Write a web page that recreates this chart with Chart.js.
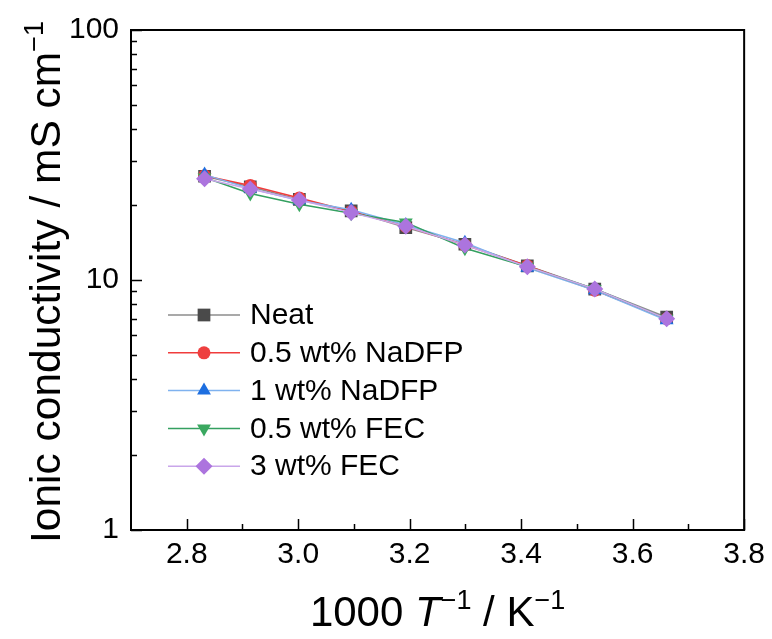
<!DOCTYPE html>
<html>
<head>
<meta charset="utf-8">
<script src="https://cdn.jsdelivr.net/npm/chart.js@4"></script>
<style>
  html, body { margin: 0; padding: 0; background: #fff; }
  #wrap { width: 772px; height: 639px; }
</style>
</head>
<body>
<div id="wrap"><canvas id="cond"></canvas></div>
<script>
// 1000/T for 80 ... 0 °C
var invT = [2.832, 2.914, 3.002, 3.095, 3.193, 3.299, 3.411, 3.532, 3.661];

// ionic conductivity, mS cm-1
var neat     = [26.0, 23.6, 21.0, 18.9, 16.2, 13.9, 11.4, 9.2, 7.1];
var nadfp05  = [26.1, 23.9, 21.3, 18.8, 16.4, 13.8, 11.4, 9.1, 7.0];
var nadfp1   = [26.4, 23.2, 20.8, 19.1, 16.6, 14.1, 11.2, 9.1, 6.9];
var fec05    = [25.7, 22.2, 20.1, 18.5, 17.0, 13.4, 11.3, 9.2, 7.0];
var fec3     = [25.4, 23.1, 20.9, 18.6, 16.4, 13.8, 11.3, 9.2, 7.0];

var labels = ["Neat", "0.5 wt% NaDFP", "1 wt% NaDFP", "0.5 wt% FEC", "3 wt% FEC"];
var xTicks = [2.8, 3.0, 3.2, 3.4, 3.6, 3.8];
var yTicks = [1, 10, 100];

var FONT = "'Liberation Sans', Arial, sans-serif";

function pts(ys) {
    return invT.map(function (x, i) { return {x: x, y: ys[i]}; });
}

var styles = [
    {line: "#8c8c8c", mark: "#4a4a4a", shape: "rect", r: 9, rot: 0},
    {line: "#f03c3c", mark: "#ee3f3f", shape: "circle", r: 6.5, rot: 0},
    {line: "#7fb2ef", mark: "#1d6ee0", shape: "triangle", r: 8, rot: 0},
    {line: "#34a060", mark: "#3aa860", shape: "triangle", r: 8, rot: 180},
    {line: "#c9a6ea", mark: "#ac74de", shape: "rectRot", r: 8.5, rot: 0}
];
var series = [neat, nadfp05, nadfp1, fec05, fec3];

var datasets = series.map(function (s, i) {
    var st = styles[i];
    return {
        label: labels[i],
        data: pts(s),
        borderColor: st.line,
        borderWidth: 1.5,
        pointStyle: st.shape,
        pointRotation: st.rot,
        pointRadius: st.r,
        pointBackgroundColor: st.mark,
        pointBorderColor: st.mark,
        pointBorderWidth: 0,
        order: 5 - i
    };
});

// frame, inward ticks, titles and legend
var decor = {
    id: "decor",
    afterDraw: function (chart) {
        var ctx = chart.ctx, a = chart.chartArea;
        var xs = chart.scales.x, ys = chart.scales.y;
        ctx.save();
        ctx.strokeStyle = "#000";
        ctx.lineWidth = 2;
        ctx.strokeRect(a.left, a.top, a.right - a.left, a.bottom - a.top);

        ctx.lineWidth = 1.5;
        ctx.beginPath();
        for (var v = 2.8; v < 3.81; v += 0.1) {
            var px = Math.round(xs.getPixelForValue(v)) + 0.5;
            var major = Math.abs(Math.round(v * 10) % 2) === 0;
            ctx.moveTo(px, a.bottom);
            ctx.lineTo(px, a.bottom - (major ? 11 : 6));
        }
        for (var d = 1; d <= 10; d *= 10) {
            for (var m = 1; m <= 10; m++) {
                var val = d * m;
                if (val > 100) continue;
                var py = Math.round(ys.getPixelForValue(val)) + 0.5;
                var maj = (m === 1 || m === 10);
                ctx.moveTo(a.left, py);
                ctx.lineTo(a.left + (maj ? 11 : 6), py);
            }
        }
        ctx.stroke();

        // x title
        ctx.fillStyle = "#000";
        ctx.textBaseline = "alphabetic";
        var parts = [
            {t: "1000 ", f: "42px " + FONT, dy: 0},
            {t: "T", f: "italic 42px " + FONT, dy: 0},
            {t: "\u22121", f: "27px " + FONT, dy: -17},
            {t: " / K", f: "42px " + FONT, dy: 0},
            {t: "\u22121", f: "27px " + FONT, dy: -17}
        ];
        var w = 0;
        parts.forEach(function (p) { ctx.font = p.f; w += ctx.measureText(p.t).width; });
        var x0 = (a.left + a.right) / 2 - w / 2, base = 626;
        parts.forEach(function (p) {
            ctx.font = p.f;
            ctx.textAlign = "left";
            ctx.fillText(p.t, x0, base + p.dy);
            x0 += ctx.measureText(p.t).width;
        });

        // y title
        ctx.translate(60, (a.top + a.bottom) / 2 + 2);
        ctx.rotate(-Math.PI / 2);
        var yparts = [
            {t: "Ionic conductivity / mS cm", f: "42.5px " + FONT, dy: 0},
            {t: "\u22121", f: "27px " + FONT, dy: -17}
        ];
        w = 0;
        yparts.forEach(function (p) { ctx.font = p.f; w += ctx.measureText(p.t).width; });
        x0 = -w / 2;
        yparts.forEach(function (p) {
            ctx.font = p.f;
            ctx.fillText(p.t, x0, p.dy);
            x0 += ctx.measureText(p.t).width;
        });
        ctx.restore();

        // legend
        ctx.save();
        ctx.font = "30px " + FONT;
        ctx.textBaseline = "middle";
        chart.data.datasets.forEach(function (ds, i) {
            var st = styles[i];
            var ly = 315 + i * 37.8;
            ctx.strokeStyle = st.line;
            ctx.lineWidth = 1.5;
            ctx.beginPath();
            ctx.moveTo(168, ly);
            ctx.lineTo(240, ly);
            ctx.stroke();
            ctx.fillStyle = st.mark;
            ctx.strokeStyle = st.mark;
            Chart.helpers.drawPoint(ctx, {pointStyle: st.shape, rotation: st.rot, radius: st.r, borderWidth: 0}, 204, ly);
            ctx.fillStyle = "#000";
            ctx.fillText(ds.label, 250, ly + 1);
        });
        ctx.restore();
    }
};

new Chart(document.getElementById("cond"), {
    type: "line",
    data: {datasets: datasets},
    options: {
        responsive: true,
        maintainAspectRatio: false,
        animation: false,
        layout: {padding: {left: 0, top: 30, right: 27, bottom: 0}},
        plugins: {legend: {display: false}, tooltip: {enabled: false}},
        scales: {
            x: {
                type: "linear",
                min: 2.7,
                max: 3.8,
                afterBuildTicks: function (s) { s.ticks = xTicks.map(function (v) { return {value: v}; }); },
                afterFit: function (s) { s.height = 109; },
                grid: {display: false, drawTicks: false},
                border: {display: false},
                ticks: {
                    color: "#000",
                    font: {family: FONT, size: 30},
                    padding: 7,
                    maxRotation: 0,
                    callback: function (v) { return v.toFixed(1); }
                }
            },
            y: {
                type: "logarithmic",
                min: 1,
                max: 100,
                afterBuildTicks: function (s) { s.ticks = yTicks.map(function (v) { return {value: v}; }); },
                afterFit: function (s) { s.width = 131; },
                grid: {display: false, drawTicks: false},
                border: {display: false},
                ticks: {
                    color: "#000",
                    font: {family: FONT, size: 30},
                    padding: 12,
                    callback: function (v) { return String(v); }
                }
            }
        }
    },
    plugins: [decor]
});
</script>
</body>
</html>
